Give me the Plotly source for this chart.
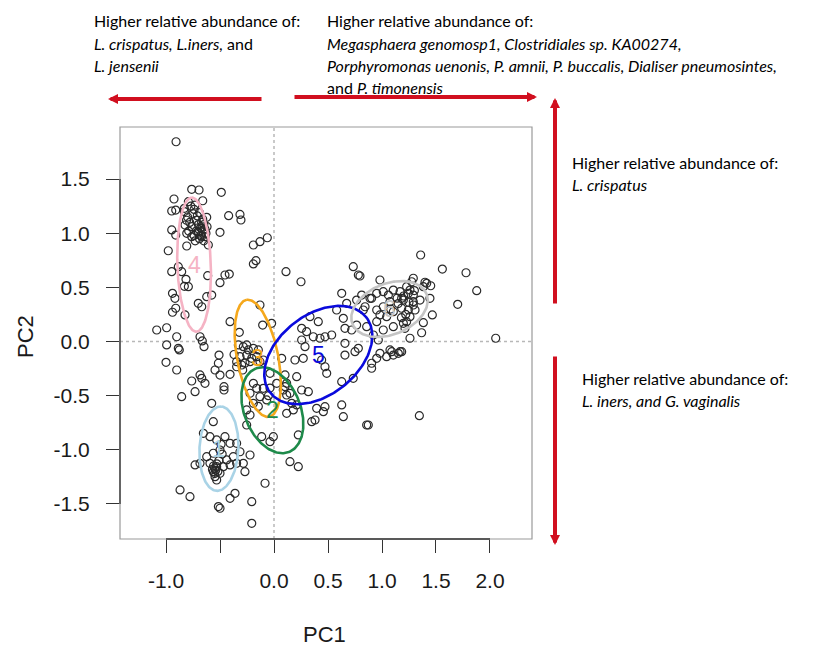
import numpy as np
import plotly.graph_objects as go

# ---------------- data ----------------
pc1 = [
 # upper-left group
 -0.907,-0.762,-0.694,-0.488,-0.926,-0.660,-0.947,-0.910,-0.830,-0.793,-0.731,-0.623,-0.420,-0.315,-0.306,
 -0.947,-0.910,-0.824,-0.808,-0.762,-0.701,-0.669,-0.639,-0.500,-0.808,-0.979,-0.608,-0.191,-0.130,-0.062,
 -0.83,-0.80,-0.78,-0.75,-0.72,-0.70,-0.68,-0.72,-0.74,-0.70,-0.69,-0.77,-0.74,-0.71,-0.67,-0.66,-0.76,-0.79,-0.81,-0.73,-0.68,
 -0.65,-0.64,-0.66,-0.63,-0.67,-0.65,-0.69,-0.62,
 # middle-left
 -0.191,-0.167,0.111,0.250,-0.614,-0.500,-0.454,-0.414,-0.947,-0.886,-0.855,-0.815,-0.793,-0.940,-0.623,-0.577,
 -0.940,-0.910,-0.701,-0.669,-0.824,-0.130,-0.830,-0.917,-0.105,-1.086,-0.994,-0.901,-0.685,-0.664,-0.994,-0.886,-0.877,
 -0.648,-0.321,-0.330,-0.284,-0.238,-0.191,-1.000,-0.901,-0.509,-0.515,-0.546,-0.685,-0.669,-0.762,-0.731,-0.639,-0.855,
 -0.463,-0.463,-0.407,-0.315,-0.346,-0.299,-0.253,-0.206,-0.160,-0.130,-0.577,-0.407,-0.500,
 -0.253,-0.145,-0.269,-0.222,-0.099,-0.346,-0.290,-0.370,
 # green group area
 -0.191,-0.160,-0.222,-0.130,-0.068,-0.191,-0.253,-0.222,-0.253,0.025,0.086,
 -0.099,-0.145,-0.052,-0.037,0.102,0.117,
 -0.114,-0.006,-0.037,0.148,0.225,0.225,0.117,0.179,
 # lower
 -0.083,-0.206,-0.206,-0.870,-0.778,-0.515,-0.500,-0.407,-0.361,-0.222,-0.269,
 # light-blue group
 -0.562,-0.654,-0.593,-0.531,-0.454,-0.407,-0.346,-0.315,-0.377,-0.438,-0.500,-0.562,-0.623,-0.685,-0.731,
 -0.593,-0.531,-0.562,-0.546,-0.469,-0.407,-0.346,-0.284,-0.500,-0.531,
 -0.55,-0.54,-0.52,-0.56,-0.53,-0.51,-0.55,-0.57,-0.49,-0.48,
 # group 5 area
 0.734,0.781,0.981,0.627,0.673,0.765,0.812,0.843,0.904,0.951,0.580,0.642,0.333,0.410,0.256,0.302,0.364,0.426,
 0.472,0.534,0.657,0.719,0.765,0.256,0.287,0.657,0.781,0.750,0.194,0.271,0.441,0.472,0.488,0.657,0.627,0.734,
 0.210,0.102,0.117,0.256,0.318,0.164,0.210,0.395,0.472,0.457,0.627,0.642,0.349,0.380,0.873,
 0.904,0.981,1.090,1.151,0.951,1.043,-0.022,0.148,0.071,-0.037,0.858,
 # group 6 area
 1.358,1.559,1.778,1.877,1.701,2.053,1.346,1.398,1.451,1.444,1.466,1.383,1.367,1.259,1.213,1.290,1.244,1.290,
 1.306,1.259,1.228,1.198,1.182,
 0.889,1.012,1.059,1.105,1.167,1.228,1.275,1.259,1.290,1.182,1.074,1.012,0.951,0.981,1.043,1.105,1.182,1.244,
 1.290,1.352,1.383,1.414,1.198,1.105,1.012,0.951,0.827,0.858,0.920,0.966,1.074,1.105,1.167,0.904,0.796,
 1.15,1.20,1.25,1.14,1.22,1.18,1.30,1.08,
]
pc2 = [
 1.845,1.405,1.399,1.378,1.316,1.300,1.205,1.214,1.230,1.291,1.260,1.147,1.162,1.174,1.122,
 1.030,0.983,1.076,0.999,0.968,1.014,1.045,0.968,1.008,0.882,0.838,0.891,0.891,0.922,0.958,
 1.20,1.15,1.10,1.18,1.12,1.08,1.05,1.02,0.98,1.00,0.95,1.25,1.22,1.16,1.10,1.02,1.06,1.02,1.12,0.93,0.98,
 1.08,1.04,1.13,1.00,0.97,0.93,1.19,1.06,
 0.716,0.746,0.645,0.552,0.608,0.543,0.614,0.623,0.645,0.691,0.645,0.574,0.506,0.445,0.414,0.429,
 0.270,0.307,0.353,0.321,0.245,0.337,0.510,0.399,0.152,0.106,0.127,0.044,0.044,0.005,-0.032,-0.063,-0.078,
 -0.048,0.085,-0.032,-0.048,-0.078,-0.063,-0.192,-0.263,-0.125,-0.201,-0.263,-0.309,-0.340,-0.365,-0.463,-0.386,-0.510,
 -0.417,-0.448,-0.303,-0.140,-0.186,-0.217,-0.125,-0.155,-0.140,-0.186,-0.571,0.183,-0.310,
 -0.032,-0.078,-0.201,-0.186,-0.171,-0.233,-0.263,-0.120,
 -0.386,-0.432,-0.478,-0.510,-0.540,-0.571,-0.632,-0.679,-0.771,-0.386,-0.448,
 -0.432,-0.600,-0.500,-0.430,-0.417,-0.494,
 -0.879,-0.879,-0.925,-1.110,-1.156,-0.863,-0.663,-0.632,
 -1.309,-1.479,-1.679,-1.371,-1.433,-1.525,-1.540,-1.448,-1.402,-1.048,-1.202,
 -0.740,-0.848,-0.879,-0.909,-0.879,-0.940,-0.940,-1.018,-1.064,-1.094,-1.002,-1.032,-1.064,-1.125,-1.140,
 -1.125,-1.156,-1.202,-1.248,-1.156,-1.140,-1.125,-1.125,-1.217,-1.279,
 -1.17,-1.19,-1.20,-1.15,-1.13,-1.10,-1.22,-1.18,-0.95,-1.04,
 0.691,0.614,0.568,0.445,0.353,0.383,0.429,0.321,0.399,0.445,0.291,0.214,0.229,0.183,0.122,0.091,0.044,0.030,
 0.044,0.060,0.122,0.106,0.152,0.014,-0.048,-0.017,-0.063,-0.094,-0.171,-0.155,-0.171,-0.233,-0.294,-0.125,-0.371,-0.340,
 -0.325,-0.309,-0.386,-0.448,-0.463,-0.571,-0.586,-0.617,-0.602,-0.648,-0.586,-0.694,-0.740,-0.725,-0.771,
 -0.201,-0.109,-0.094,-0.109,-0.155,-0.140,0.168,-0.479,-0.155,-0.294,-0.771,
 0.799,0.669,0.635,0.469,0.343,0.030,-0.685,0.547,0.515,0.399,0.245,0.174,0.081,0.030,0.122,0.584,0.445,0.368,
 0.291,0.229,0.183,0.383,-0.094,
 0.399,0.460,0.429,0.475,0.460,0.506,0.552,0.475,0.429,0.399,0.368,0.321,0.291,0.245,0.229,0.275,0.307,0.291,
 0.337,0.383,0.506,0.537,0.168,0.137,0.106,0.183,0.291,0.137,0.060,0.014,-0.078,-0.125,-0.094,-0.247,0.605,
 0.35,0.42,0.36,0.40,0.25,0.22,0.47,0.30,
]

# cluster ellipses (centre, semi-axes, orientation in degrees) and labels
cl_labels = ["4", "1", "3", "2", "5", "6"]
cl_cx = [-0.74, -0.51, -0.15, -0.015, 0.41, 1.07]
cl_cy = [0.71, -0.99, -0.155, -0.635, -0.125, 0.30]
cl_a = [0.62, 0.39, 0.55, 0.415, 0.565, 0.37]
cl_b = [0.155, 0.18, 0.19, 0.26, 0.37, 0.235]
cl_angle = [92, 87, 101, 112, 38, 22]
cl_colors = ["#F5B3C4", "#A9D3E6", "#F5A81C", "#1E8A4A", "#0A0ADC", "#C4C4C4"]

x_ticks = [-1.0, -0.5, 0.0, 0.5, 1.0, 1.5, 2.0]
x_ticktext = ["-1.0", "", "0.0", "0.5", "1.0", "1.5", "2.0"]
y_ticks = [-1.5, -1.0, -0.5, 0.0, 0.5, 1.0, 1.5]
y_ticktext = ["-1.5", "-1.0", "-0.5", "0.0", "0.5", "1.0", "1.5"]
x_range = [-1.426, 2.389]
y_range = [-1.824, 1.981]

# ---------------- figure ----------------
OFF = 8  # page body margin of the browser
W, H = 819, 647
L, T = 120 - OFF, 127 - OFF
pw, ph = 412, 412
R, B = W - L - pw, H - T - ph

def px(xp):  # page pixel -> paper x
    return (xp - OFF - L) / pw

def py(yp):  # page pixel -> paper y
    return (T + ph + OFF - yp) / ph

TICKFONT = dict(family="Liberation Sans, Arial, sans-serif", size=21, color="#1a1a1a")
TXTFONT = dict(family="Lato, Open Sans, sans-serif", size=16, color="#000000")

fig = go.Figure()
fig.add_trace(go.Scatter(
    x=pc1, y=pc2, mode="markers",
    marker=dict(symbol="circle-open", size=8, color="#2a2a2a", line=dict(width=1.2)),
    showlegend=False, hoverinfo="skip"))

t = np.linspace(0, 2 * np.pi, 200)
for lab, cx, cy, a, b, ang, col in zip(cl_labels, cl_cx, cl_cy, cl_a, cl_b, cl_angle, cl_colors):
    ph_ = np.deg2rad(ang)
    ex = cx + a * np.cos(t) * np.cos(ph_) - b * np.sin(t) * np.sin(ph_)
    ey = cy + a * np.cos(t) * np.sin(ph_) + b * np.sin(t) * np.cos(ph_)
    fig.add_trace(go.Scatter(x=ex, y=ey, mode="lines", line=dict(color=col, width=2.6),
                             showlegend=False, hoverinfo="skip"))
    fig.add_annotation(x=cx, y=cy, text=lab, showarrow=False, xanchor="center", yanchor="middle",
                       font=dict(family="Liberation Sans, Arial, sans-serif", size=23, color=col))

# dotted zero lines
fig.add_shape(type="line", xref="x", yref="paper", x0=0, x1=0, y0=0, y1=1,
              line=dict(color="#B8B8B8", width=1.5, dash="dot"), layer="below")
fig.add_shape(type="line", xref="paper", yref="y", x0=0, x1=1, y0=0, y1=0,
              line=dict(color="#B8B8B8", width=1.5, dash="dot"), layer="below")
# box + axis segments
fig.add_shape(type="rect", xref="paper", yref="paper", x0=0, x1=1, y0=0, y1=1,
              line=dict(color="#9a9a9a", width=1.2))
fig.add_shape(type="line", xref="x", yref="paper", x0=x_ticks[0], x1=x_ticks[-1], y0=0, y1=0,
              line=dict(color="#333333", width=1.3))
fig.add_shape(type="line", xref="paper", yref="y", x0=0, x1=0, y0=y_ticks[0], y1=y_ticks[-1],
              line=dict(color="#333333", width=1.3))

# axis titles
fig.add_annotation(x=px(324), y=py(634), xref="paper", yref="paper", text="PC1", showarrow=False,
                   xanchor="center", yanchor="middle",
                   font=dict(family="Liberation Sans, Arial, sans-serif", size=22, color="#1a1a1a"))
fig.add_annotation(x=px(25), y=py(337), xref="paper", yref="paper", text="PC2", showarrow=False,
                   textangle=-90, xanchor="center", yanchor="middle",
                   font=dict(family="Liberation Sans, Arial, sans-serif", size=22, color="#1a1a1a"))

# outer explanatory texts
texts = [
    (91.7, 20.7, "Higher relative abundance of:"),
    (91.7, 43.3, "<i>L. crispatus, L.iners,</i> and"),
    (91.7, 65.7, "<i>L. jensenii</i>"),
    (325, 20.7, "Higher relative abundance of:"),
    (325, 43.3, "<i>Megasphaera genomosp1, Clostridiales sp. KA00274,</i>"),
    (325, 65.7, "<i>Porphyromonas uenonis, P. amnii, P. buccalis, Dialiser pneumosintes,</i>"),
    (325, 88.0, "and <i>P. timonensis</i>"),
    (570, 162, "Higher relative abundance of:"),
    (570, 184, "<i>L. crispatus</i>"),
    (580, 378, "Higher relative abundance of:"),
    (580, 400, "<i>L. iners, and G. vaginalis</i>"),
]
for xp, yp, s in texts:
    fig.add_annotation(x=px(xp), y=py(yp), xref="paper", yref="paper", text=s, showarrow=False,
                       xanchor="left", yanchor="middle", font=TXTFONT)

# red arrows: (head x, head y, tail x, tail y) in page pixels
arrows = [(108, 99, 263, 99), (537, 97, 293, 97), (555, 98, 555, 305), (555, 545, 555, 355)]
for hx, hy, tx, ty in arrows:
    fig.add_annotation(x=px(hx), y=py(hy), xref="paper", yref="paper", ax=tx - hx, ay=ty - hy,
                       axref="pixel", ayref="pixel", text="", showarrow=True,
                       arrowhead=2, arrowsize=0.5, arrowwidth=4, arrowcolor="#D10F1F", standoff=0)

fig.update_xaxes(range=x_range, tickvals=x_ticks, ticktext=x_ticktext, ticks="outside", ticklen=13,
                 tickcolor="#333333", tickwidth=1.3, showgrid=False, zeroline=False, showline=False,
                 tickfont=TICKFONT, ticklabelstandoff=10)
fig.update_yaxes(range=y_range, tickvals=y_ticks, ticktext=y_ticktext, ticks="outside", ticklen=13,
                 tickcolor="#333333", tickwidth=1.3, showgrid=False, zeroline=False, showline=False,
                 tickfont=TICKFONT, ticklabelstandoff=12)
fig.update_layout(width=W, height=H, autosize=False, margin=dict(l=L, r=R, t=T, b=B),
                  plot_bgcolor="white", paper_bgcolor="white")
fig.write_html("out.html")
